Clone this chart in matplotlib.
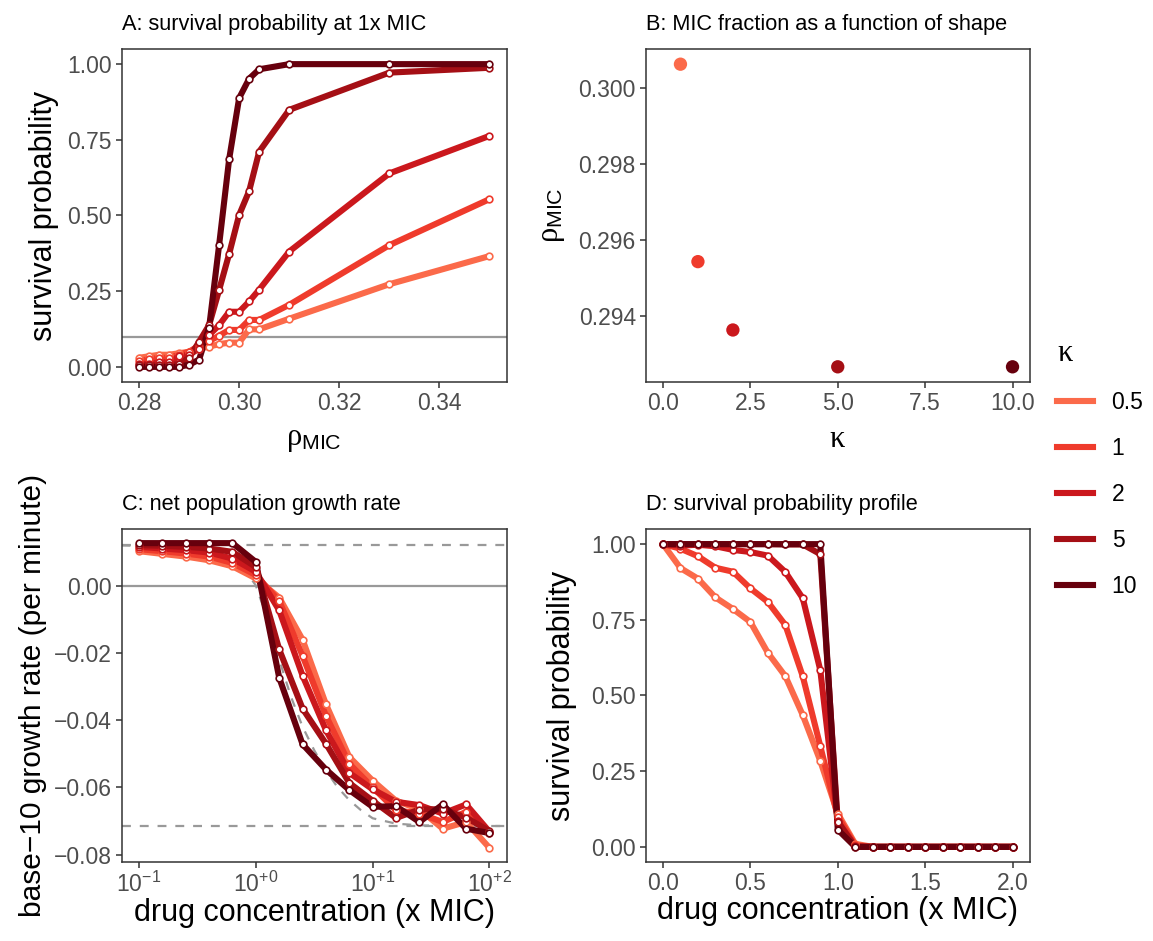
import numpy as np
import matplotlib
matplotlib.use('Agg')
import matplotlib.pyplot as plt
from matplotlib.lines import Line2D

plt.rcParams['font.family'] = ['Liberation Sans', 'DejaVu Sans']
plt.rcParams['mathtext.fontset'] = 'custom'
plt.rcParams['mathtext.rm'] = 'Liberation Sans'
plt.rcParams['mathtext.it'] = 'Liberation Serif'
plt.rcParams['mathtext.bf'] = 'Liberation Sans:bold'

# ---------------- data ----------------
kappa_labels = ['0.5', '1', '2', '5', '10']
kappa_values = [0.5, 1, 2, 5, 10]
colors = ['#FB6A4A', '#EF3B2C', '#CB181D', '#A50F15', '#67000D']

# Panel A: survival probability at 1x MIC vs rho_MIC
rho_a = [0.280, 0.282, 0.284, 0.286, 0.288, 0.290, 0.292, 0.294,
         0.296, 0.298, 0.300, 0.302, 0.304, 0.310, 0.330, 0.350]
surv_a_k05 = [0.030, 0.035, 0.040, 0.040, 0.045, 0.050, 0.060, 0.067,
              0.075, 0.080, 0.080, 0.124, 0.124, 0.159, 0.273, 0.366]
surv_a_k1 = [0.020, 0.025, 0.030, 0.030, 0.040, 0.050, 0.070, 0.085,
             0.103, 0.122, 0.122, 0.155, 0.155, 0.205, 0.402, 0.554]
surv_a_k2 = [0.010, 0.010, 0.015, 0.015, 0.035, 0.040, 0.060, 0.105,
             0.138, 0.182, 0.182, 0.216, 0.255, 0.381, 0.639, 0.763]
surv_a_k5 = [0.005, 0.005, 0.005, 0.005, 0.010, 0.030, 0.083, 0.138,
             0.254, 0.373, 0.502, 0.581, 0.711, 0.849, 0.972, 0.988]
surv_a_k10 = [0.000, 0.000, 0.000, 0.000, 0.000, 0.007, 0.024, 0.130,
              0.403, 0.686, 0.888, 0.952, 0.983, 1.000, 1.000, 1.000]
threshold_a = 0.1

# Panel B: MIC fraction as a function of shape
rho_mic_b = [0.30063, 0.29543, 0.29363, 0.29266, 0.29266]

# Panel C: net population growth rate
conc_c = [10 ** (-1 + 0.2 * i) for i in range(16)]
growth_c_k05 = [0.0102, 0.0094, 0.0086, 0.0075, 0.0057, 0.0021, -0.0036, -0.0161,
                -0.0353, -0.0510, -0.0580, -0.0640, -0.0665, -0.0723, -0.0703, -0.0780]
growth_c_k1 = [0.0108, 0.0102, 0.0095, 0.0086, 0.0067, 0.0031, -0.0046, -0.0209,
               -0.0387, -0.0530, -0.0600, -0.0668, -0.0678, -0.0703, -0.0673, -0.0735]
growth_c_k2 = [0.0115, 0.0110, 0.0105, 0.0098, 0.0080, 0.0041, -0.0074, -0.0268,
               -0.0430, -0.0557, -0.0606, -0.0643, -0.0653, -0.0678, -0.0651, -0.0732]
growth_c_k5 = [0.0120, 0.0118, 0.0115, 0.0110, 0.0100, 0.0055, -0.0190, -0.0366,
               -0.0470, -0.0587, -0.0640, -0.0691, -0.0666, -0.0665, -0.0690, -0.0730]
growth_c_k10 = [0.0126, 0.0126, 0.0126, 0.0126, 0.0126, 0.0070, -0.0274, -0.0472,
                -0.0547, -0.0608, -0.0658, -0.0656, -0.0703, -0.0651, -0.0723, -0.0736]
psi_max = 0.0119
psi_min = -0.0715
ref_log_conc = [-1.15, -1.0, -0.8, -0.6, -0.4, -0.2, -0.1, 0.0, 0.1, 0.2, 0.3, 0.4,
                0.5, 0.6, 0.7, 0.8, 0.9, 1.0, 1.2, 1.4, 1.6, 2.0, 2.15]
ref_growth = [0.0119, 0.0118, 0.0116, 0.0112, 0.0103, 0.0078, 0.0050, 0.0000,
              -0.0100, -0.0220, -0.0330, -0.0420, -0.0490, -0.0550, -0.0600,
              -0.0638, -0.0668, -0.0692, -0.0708, -0.0713, -0.0714, -0.0715, -0.0715]

# Panel D: survival probability profile
conc_d = [round(0.1 * i, 1) for i in range(21)]
surv_d_k05 = [1.0, 0.921, 0.886, 0.824, 0.786, 0.743, 0.641, 0.564, 0.435, 0.284,
              0.110, 0.010] + [0.0] * 9
surv_d_k1 = [1.0, 0.985, 0.960, 0.922, 0.909, 0.854, 0.809, 0.733, 0.563, 0.333,
             0.100, 0.005] + [0.0] * 9
surv_d_k2 = [1.0, 0.995, 0.998, 0.993, 0.981, 0.974, 0.962, 0.908, 0.821, 0.584,
             0.085, 0.002] + [0.0] * 9
surv_d_k5 = [1.0, 1.0, 1.0, 1.0, 1.0, 1.0, 1.0, 0.999, 0.999, 0.967,
             0.083, 0.0] + [0.0] * 9
surv_d_k10 = [1.0, 1.0, 1.0, 1.0, 1.0, 1.0, 1.0, 1.0, 1.0, 1.0,
              0.057, 0.0] + [0.0] * 9

surv_a = [surv_a_k05, surv_a_k1, surv_a_k2, surv_a_k5, surv_a_k10]
growth_c = [growth_c_k05, growth_c_k1, growth_c_k2, growth_c_k5, growth_c_k10]
surv_d = [surv_d_k05, surv_d_k1, surv_d_k2, surv_d_k5, surv_d_k10]

# ---------------- styling ----------------
W, H = 1153, 941
fig = plt.figure(figsize=(W / 100, H / 100), dpi=100)

TICK_FS = 16.5
LABEL_FS = 22
TITLE_FS = 15.7
GREY = '#999999'
DARK = '#333333'


def make_ax(x0, y0, x1, y1):
    ax = fig.add_axes([x0 / W, 1 - y1 / H, (x1 - x0) / W, (y1 - y0) / H])
    for s in ax.spines.values():
        s.set_color(DARK)
        s.set_linewidth(1.1)
    ax.tick_params(direction='out', length=4, width=1.1, color=DARK,
                   labelsize=TICK_FS, labelcolor='#4D4D4D', pad=3)
    return ax


LW = 4.4
MS = 4.8


def lines_points(ax, x, ys):
    for y, c in zip(ys, colors):
        ax.plot(x, y, color=c, lw=LW, solid_joinstyle='round', solid_capstyle='butt', zorder=2)
    for y, c in zip(ys, colors):
        ax.plot(x, y, ls='none', marker='o', ms=MS, mfc='white', mec=c, mew=1.2, zorder=3)


axA = make_ax(121.5, 49, 507, 382)
axB = make_ax(645.5, 49, 1030, 382)
axC = make_ax(121.5, 529, 507, 862)
axD = make_ax(645.5, 529, 1030, 862)

DASH = (0, (4, 4))
TPAD = 14

# Panel A
axA.axhline(threshold_a, color=GREY, lw=1.6, zorder=1)
lines_points(axA, rho_a, surv_a)
axA.set_xlim(0.2765, 0.3535)
axA.set_ylim(-0.05, 1.05)
axA.set_xticks([0.28, 0.30, 0.32, 0.34])
axA.set_xticklabels(['0.28', '0.30', '0.32', '0.34'])
axA.set_yticks([0, 0.25, 0.5, 0.75, 1.0])
axA.set_yticklabels(['0.00', '0.25', '0.50', '0.75', '1.00'])
axA.set_xlabel(r'$\rho_{\mathrm{MIC}}$', fontsize=LABEL_FS, labelpad=7)
axA.set_ylabel('survival probability', fontsize=LABEL_FS, labelpad=6)
axA.set_title('A: survival probability at 1x MIC', loc='left', fontsize=TITLE_FS, pad=TPAD)

# Panel B
axB.scatter(kappa_values, rho_mic_b, c=colors, s=92, linewidths=0, zorder=3)
axB.set_xlim(-0.5, 10.5)
axB.set_ylim(0.29226, 0.30103)
axB.set_xticks([0, 2.5, 5, 7.5, 10])
axB.set_xticklabels(['0.0', '2.5', '5.0', '7.5', '10.0'])
axB.set_yticks([0.294, 0.296, 0.298, 0.300])
axB.set_yticklabels(['0.294', '0.296', '0.298', '0.300'])
axB.set_xlabel(r'$\kappa$', fontsize=LABEL_FS, labelpad=7)
axB.set_ylabel(r'$\rho_{\mathrm{MIC}}$', fontsize=LABEL_FS, labelpad=8)
axB.set_title('B: MIC fraction as a function of shape', loc='left', fontsize=TITLE_FS, pad=TPAD)

# Panel C
axC.axhline(0, color=GREY, lw=1.6, zorder=1)
axC.axhline(psi_max, color=GREY, lw=1.6, ls=DASH, zorder=1)
axC.axhline(psi_min, color=GREY, lw=1.6, ls=DASH, zorder=1)
axC.plot([10 ** v for v in ref_log_conc], ref_growth, color=GREY, lw=1.6,
         ls=DASH, zorder=1)
lines_points(axC, conc_c, growth_c)
axC.set_xscale('log')
axC.set_xlim(10 ** -1.15, 10 ** 2.15)
axC.set_ylim(-0.0822, 0.0168)
axC.set_xticks([0.1, 1, 10, 100])
axC.set_xticklabels([r'$\mathrm{10^{-1}}$', r'$\mathrm{10^{+0}}$',
                     r'$\mathrm{10^{+1}}$', r'$\mathrm{10^{+2}}$'])
axC.xaxis.set_minor_locator(matplotlib.ticker.NullLocator())
axC.set_yticks([0, -0.02, -0.04, -0.06, -0.08])
axC.set_yticklabels(['0.00', '\u22120.02', '\u22120.04', '\u22120.06', '\u22120.08'])
axC.set_xlabel('drug concentration (x MIC)', fontsize=LABEL_FS, labelpad=1)
axC.set_ylabel('base\u221210 growth rate (per minute)', fontsize=21.5, labelpad=5)
axC.set_title('C: net population growth rate', loc='left', fontsize=TITLE_FS, pad=TPAD)

# Panel D
lines_points(axD, conc_d, surv_d)
axD.set_xlim(-0.1, 2.1)
axD.set_ylim(-0.05, 1.05)
axD.set_xticks([0, 0.5, 1.0, 1.5, 2.0])
axD.set_xticklabels(['0.0', '0.5', '1.0', '1.5', '2.0'])
axD.set_yticks([0, 0.25, 0.5, 0.75, 1.0])
axD.set_yticklabels(['0.00', '0.25', '0.50', '0.75', '1.00'])
axD.set_xlabel('drug concentration (x MIC)', fontsize=LABEL_FS, labelpad=1)
axD.set_ylabel('survival probability', fontsize=LABEL_FS, labelpad=10)
axD.set_title('D: survival probability profile', loc='left', fontsize=TITLE_FS, pad=TPAD)

# Legend
handles = [Line2D([0], [0], color=c, lw=LW) for c in colors]
leg = fig.legend(handles, kappa_labels, title=r'$\kappa$', loc='center left',
                 bbox_to_anchor=(1036 / W, 1 - 468 / H), frameon=False,
                 fontsize=TICK_FS, title_fontsize=LABEL_FS, handlelength=1.6,
                 labelspacing=1.0, handletextpad=0.8, alignment='left')

fig.savefig('out.png', dpi=100)
